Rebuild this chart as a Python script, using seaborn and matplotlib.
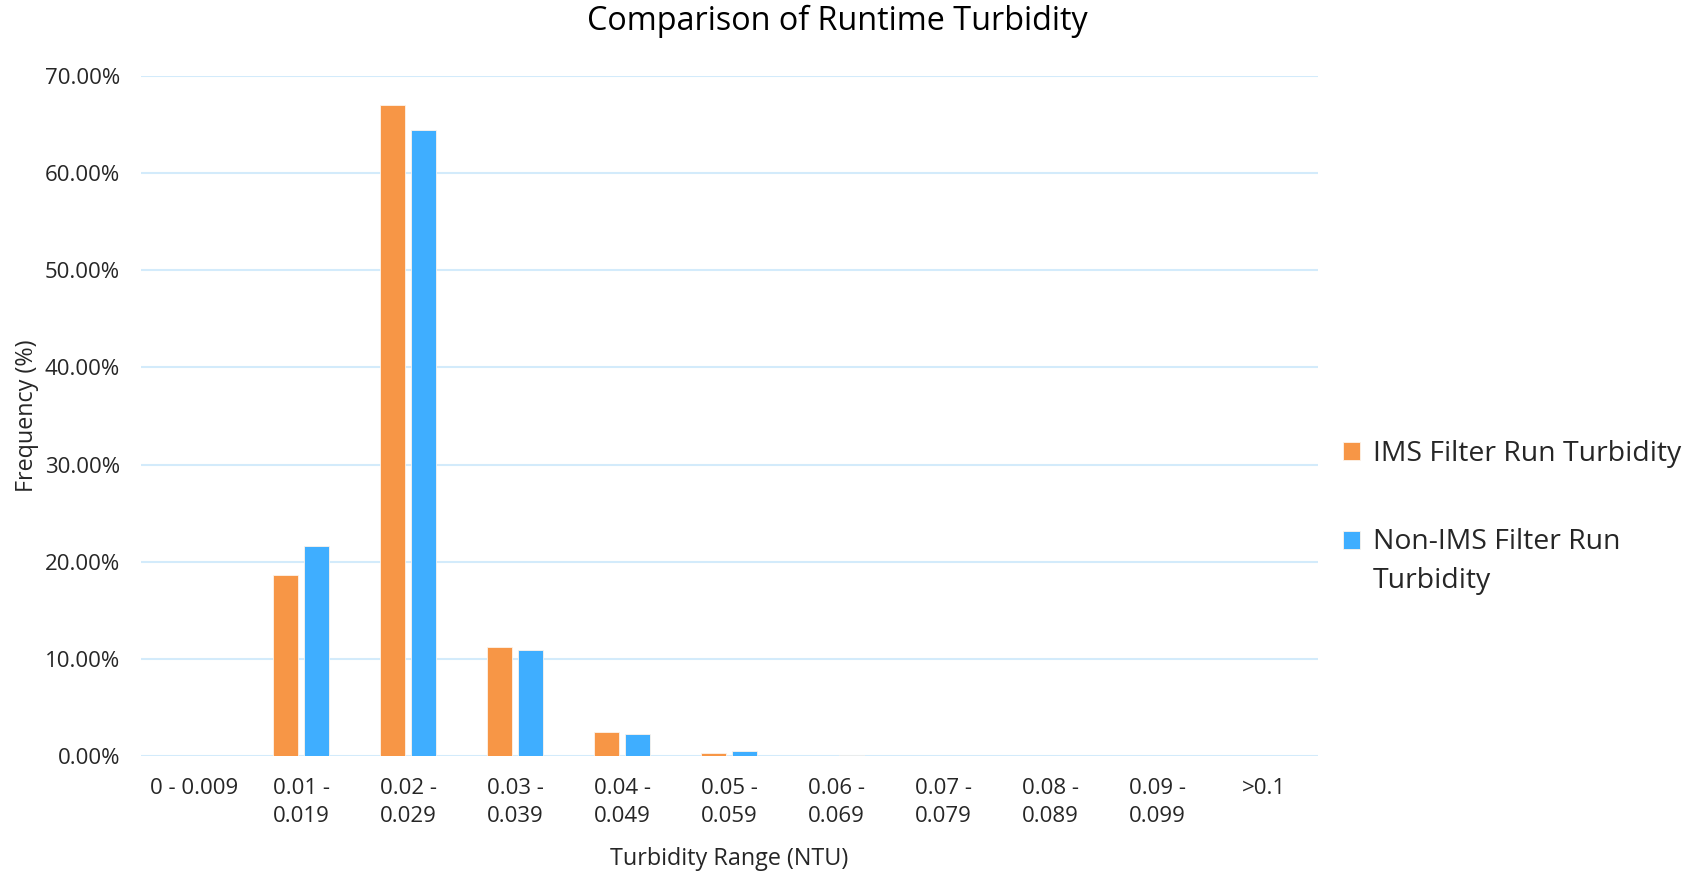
import matplotlib
matplotlib.use("Agg")
import matplotlib.pyplot as plt
import seaborn as sns
import pandas as pd
from matplotlib.ticker import FuncFormatter, MultipleLocator

# Turbidity bins (NTU) and share of readings in each bin (%)
ranges = ["0 - 0.009", "0.01 -\n0.019", "0.02 -\n0.029", "0.03 -\n0.039", "0.04 -\n0.049",
          "0.05 -\n0.059", "0.06 -\n0.069", "0.07 -\n0.079", "0.08 -\n0.089", "0.09 -\n0.099", ">0.1"]
ims_freq = [0.0, 18.67, 66.97, 11.24, 2.48, 0.28, 0.05, 0.0, 0.0, 0.0, 0.0]
non_ims_freq = [0.0, 21.6, 64.4, 10.87, 2.29, 0.48, 0.10, 0.0, 0.0, 0.0, 0.0]
series = ["IMS Filter Run Turbidity", "Non-IMS Filter Run Turbidity"]
legend_labels = ["IMS Filter Run Turbidity", "Non-IMS Filter Run\nTurbidity"]
colors = ["#F79646", "#3FAEFF"]

df = pd.DataFrame({
    "Range": ranges * 2,
    "Frequency": ims_freq + non_ims_freq,
    "Series": [series[0]] * len(ranges) + [series[1]] * len(ranges),
})

sns.set_theme(style="white")
plt.rcParams["font.family"] = ["Open Sans", "DejaVu Sans"]
text_color = "#262626"

fig = plt.figure(figsize=(16.96, 8.72), dpi=100)
ax = fig.add_axes([0.083, 0.133, 0.694, 0.780])

sns.barplot(data=df, x="Range", y="Frequency", hue="Series", order=ranges,
            hue_order=series, palette=colors, saturation=1, width=0.58, gap=0.2,
            edgecolor="#FDF3EA", linewidth=0.6, ax=ax, zorder=3)

ax.set_ylim(0, 70)
ax.set_xlim(-0.5, len(ranges) - 0.5)
ax.yaxis.set_major_locator(MultipleLocator(10))
ax.yaxis.set_major_formatter(FuncFormatter(lambda v, _: f"{v:.2f}%"))
ax.grid(axis="y", color="#D3EBFB", linewidth=1.5, zorder=0)
ax.set_axisbelow(True)
for s in ax.spines.values():
    s.set_visible(False)
ax.tick_params(axis="both", length=0, labelsize=16, colors=text_color)
ax.tick_params(axis="y", pad=15)
ax.tick_params(axis="x", pad=16)
for lbl in ax.get_xticklabels():
    lbl.set_linespacing(1.45)

ax.set_xlabel("Turbidity Range (NTU)", fontsize=16.8, color=text_color, labelpad=14)
ax.set_ylabel("Frequency (%)", fontsize=16.8, color=text_color, labelpad=4)
fig.text(0.4936, 0.975, "Comparison of Runtime Turbidity", ha="center", va="center",
         fontsize=23.3, color="black")

handles, _ = ax.get_legend_handles_labels()
leg = ax.legend(handles, legend_labels, loc="center left", bbox_to_anchor=(1.0, 0.351),
                frameon=False, fontsize=20.4, handlelength=0.6, handleheight=0.6,
                handletextpad=0.45, labelspacing=2.12, labelcolor=text_color)
for t in leg.get_texts():
    t.set_linespacing(1.52)
# keep the square of the wrapped entry level with its first line
wrapped = leg.legend_handles[1]
wrapped.set_y(wrapped.get_y() + 16)

fig.savefig("out.png", dpi=100)
